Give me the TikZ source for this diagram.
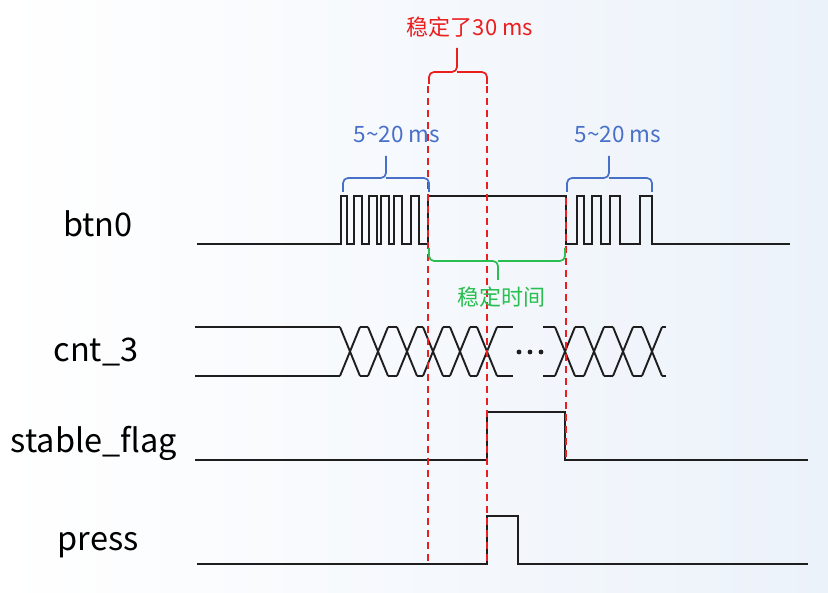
\documentclass[tikz,border=0pt]{standalone}
\usepackage{fontspec}
\newfontfamily\cjk{Noto Sans CJK SC}
\definecolor{wave}{RGB}{30,30,30}
\definecolor{redc}{RGB}{235,30,30}
\definecolor{bluec}{RGB}{72,112,200}
\definecolor{greenc}{RGB}{40,190,80}
\definecolor{bgr}{RGB}{236,242,250}
\tikzset{
  wavel/.style={draw=wave,line width=1.9pt,line join=miter},
  reddash/.style={draw=redc,line width=1.9pt,dash pattern=on 7pt off 5pt},
  bracel/.style={line width=1.7pt,rounded corners=5pt},
  sig/.style={font=\cjk\fontsize{32.5}{32.5}\selectfont,text=black,inner sep=0pt},
  anno/.style={font=\cjk\fontsize{22}{22}\selectfont,inner sep=0pt},
}
\begin{document}
\begin{tikzpicture}[x=1pt,y=-1pt]
\useasboundingbox (0,0) rectangle (828,593);
\shade[left color=white,right color=bgr] (0,0) rectangle (828,593);

% labels
\node[sig] (lbtn) at (98,224) {btn0};
\node[sig] (lcnt) at (96,352) {cnt\_3};
\node[sig] (lstab) at (94,443) {stable\_flag};
\node[sig] (lpress) at (98,545) {press};

% btn0
\draw[wavel] (197,244) -- (341,244)
  -- (341,196) -- (347,196) -- (347,244) -- (354,244)
  -- (354,196) -- (362,196) -- (362,244) -- (369,244)
  -- (369,196) -- (377,196) -- (377,244) -- (381,244)
  -- (381,196) -- (389,196) -- (389,244) -- (394,244)
  -- (394,196) -- (402,196) -- (402,244) -- (411,244)
  -- (411,196) -- (419,196) -- (419,244) -- (428,244)
  -- (428,196) -- (566,196) -- (566,244) -- (577,244)
  -- (577,196) -- (584,196) -- (584,244) -- (592,244)
  -- (592,196) -- (601,196) -- (601,244) -- (610,244)
  -- (610,196) -- (620,196) -- (620,244) -- (640,244)
  -- (640,196) -- (652,196) -- (652,244) -- (790,244);

% cnt_3
\def\ct{327}\def\cb{376}
\draw[wavel] (195,\ct) -- (340,\ct);
\draw[wavel] (195,\cb) -- (340,\cb);
\foreach \c in {350,378,407,433,460,487,565,594,623,652}{
  \draw[wavel] (\c-10,\ct) -- (\c+10,\cb);
  \draw[wavel] (\c-10,\cb) -- (\c+10,\ct);
}
\foreach \a/\b in {350/378,378/407,407/433,433/460,460/487,565/594,594/623,623/652}{
  \draw[wavel] (\a+10,\ct) -- (\b-10,\ct);
  \draw[wavel] (\a+10,\cb) -- (\b-10,\cb);
}
\draw[wavel] (497,\ct) -- (513,\ct);
\draw[wavel] (497,\cb) -- (513,\cb);
\draw[wavel] (543,\ct) -- (555,\ct);
\draw[wavel] (543,\cb) -- (555,\cb);
\draw[wavel] (662,\ct) -- (666,\ct);
\draw[wavel] (662,\cb) -- (666,\cb);
\foreach \d in {519,530,541}{\fill[wave] (\d,352) circle (2.4pt);}

% stable_flag
\draw[wavel] (195,460) -- (487,460) -- (487,412) -- (565,412) -- (565,460) -- (808,460);

% press
\draw[wavel] (197,564) -- (487,564) -- (487,516) -- (518,516) -- (518,564) -- (808,564);

% red dashed lines
\draw[reddash] (428,86) -- (428,564);
\draw[reddash] (487,86) -- (487,564);
\draw[reddash] (566,198) -- (566,460);

% red brace
\coordinate (rl) at (429,84);
\coordinate (rr) at (487,84);
\draw[redc,bracel] (rl) |- (457,72) -- (457,48);
\draw[redc,bracel] (rr) |- (457,72);
\node[anno,text=redc] (t30) at (470,27) {稳定了30 ms};

% blue braces
\draw[bluec,bracel] (343,192) |- (386,178) -- (386,156);
\draw[bluec,bracel] (429,192) |- (386,178);
\node[anno,text=bluec,font=\cjk\fontsize{22.5}{22.5}\selectfont] (tb1) at (397,134) {5\textasciitilde20 ms};
\draw[bluec,bracel] (567,192) |- (609,178) -- (609,156);
\draw[bluec,bracel] (652,192) |- (609,178);
\node[anno,text=bluec,font=\cjk\fontsize{22.5}{22.5}\selectfont] (tb2) at (618,134) {5\textasciitilde20 ms};

% green brace
\draw[greenc,bracel] (429,248) |- (498,261) -- (498,280);
\draw[greenc,bracel] (565,248) |- (498,261);
\node[anno,text=greenc] (tg) at (501,297) {稳定时间};
\end{tikzpicture}
\end{document}
